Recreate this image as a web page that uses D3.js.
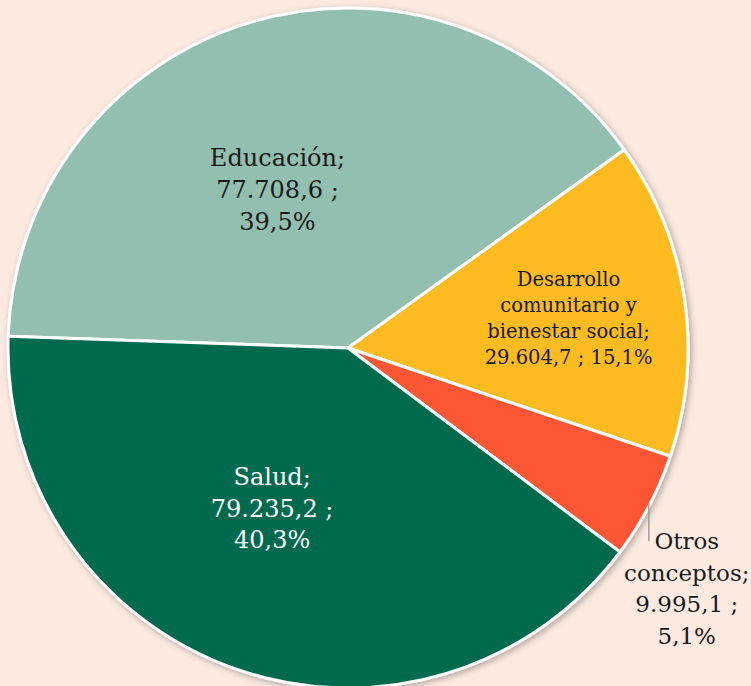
<!DOCTYPE html>
<html>
<head>
<meta charset="utf-8">
<script src="https://cdn.jsdelivr.net/npm/d3@7"></script>
<style>
  html, body { margin: 0; padding: 0; background: #fceae0; }
  svg { display: block; }
</style>
</head>
<body>
<svg id="chart" width="751" height="686"></svg>
<script>
// Gasto por concepto (valores y porcentajes)
const categories = ["Educación", "Desarrollo comunitario y bienestar social", "Otros conceptos", "Salud"];
const values = [77708.6, 29604.7, 9995.1, 79235.2];
const percents = [39.5, 15.1, 5.1, 40.3];
const valueLabels = ["77.708,6", "29.604,7", "9.995,1", "79.235,2"];
const colors = ["#93bfb0", "#fdbb21", "#fc5635", "#006b4f"];

// label text lines for each slice
const labelLines = [
  ["Educación;", valueLabels[0] + " ;", "39,5%"],
  ["Desarrollo", "comunitario y", "bienestar social;", valueLabels[1] + " ; 15,1%"],
  ["Otros", "conceptos;", valueLabels[2] + " ;", "5,1%"],
  ["Salud;", valueLabels[3] + " ;", "40,3%"]
];

const W = 751, H = 686;
const cx = 348, cy = 348, R = 340;
const svg = d3.select("#chart");

const defs = svg.append("defs");
const f = defs.append("filter").attr("id", "shadow")
  .attr("x", "-10%").attr("y", "-10%").attr("width", "120%").attr("height", "120%");
f.append("feDropShadow").attr("dx", 2).attr("dy", 2).attr("stdDeviation", 3)
  .attr("flood-color", "#000").attr("flood-opacity", 0.3);

const pie = d3.pie().sort(null)
  .startAngle(-88 * Math.PI / 180)
  .endAngle(272 * Math.PI / 180);
const arcs = pie(values);
const arc = d3.arc().innerRadius(0).outerRadius(R);

const g = svg.append("g").attr("transform", `translate(${cx},${cy})`);

g.append("g").attr("filter", "url(#shadow)")
  .selectAll("path").data(arcs).join("path")
  .attr("d", arc)
  .attr("fill", (d, i) => colors[i])
  .attr("stroke", "#ffffff")
  .attr("stroke-width", 3)
  .attr("stroke-linejoin", "round");

// label placement: radius and angular shift relative to each slice's mid angle
const labelPos = [
  { r: 168, da: -8, dy: -6, size: 24, lh: 32, fill: "#1a1a1a" },
  { r: 222, da: 2, dy: -5, size: 19.5, lh: 26, fill: "#1a1a1a" },
  null,
  { r: 180, da: 5.5, dy: -3, size: 24, lh: 31.5, fill: "#ffffff" }
];

arcs.forEach((d, i) => {
  const p = labelPos[i];
  if (!p) return;
  const a = (d.startAngle + d.endAngle) / 2 + p.da * Math.PI / 180;
  const x = Math.sin(a) * p.r, y = -Math.cos(a) * p.r + p.dy;
  const lines = labelLines[i];
  const t = g.append("text")
    .attr("text-anchor", "middle")
    .attr("font-family", "'DejaVu Serif', serif")
    .attr("font-size", p.size)
    .attr("fill", p.fill);
  lines.forEach((s, k) => {
    t.append("tspan")
      .attr("x", x)
      .attr("y", y + (k - (lines.length - 1) / 2) * p.lh)
      .attr("dy", "0.35em")
      .text(s);
  });
});

// small slice: label outside with a leader line
{
  const d = arcs[2];
  const a = (d.startAngle + d.endAngle) / 2;
  const x0 = Math.sin(a) * (R + 2), y0 = -Math.cos(a) * (R + 2);
  const lx = x0 - 2;
  g.append("line")
    .attr("x1", lx).attr("y1", y0 - 4)
    .attr("x2", lx).attr("y2", y0 + 34)
    .attr("stroke", "#a0a0a0").attr("stroke-width", 1.5);
  const t = g.append("text")
    .attr("text-anchor", "middle")
    .attr("font-family", "'DejaVu Serif', serif")
    .attr("font-size", 23)
    .attr("fill", "#1a1a1a");
  const tx = lx + 38;
  labelLines[2].forEach((s, k) => {
    t.append("tspan").attr("x", tx).attr("y", y0 + 42 + k * 31.5).text(s);
  });
}
</script>
</body>
</html>
